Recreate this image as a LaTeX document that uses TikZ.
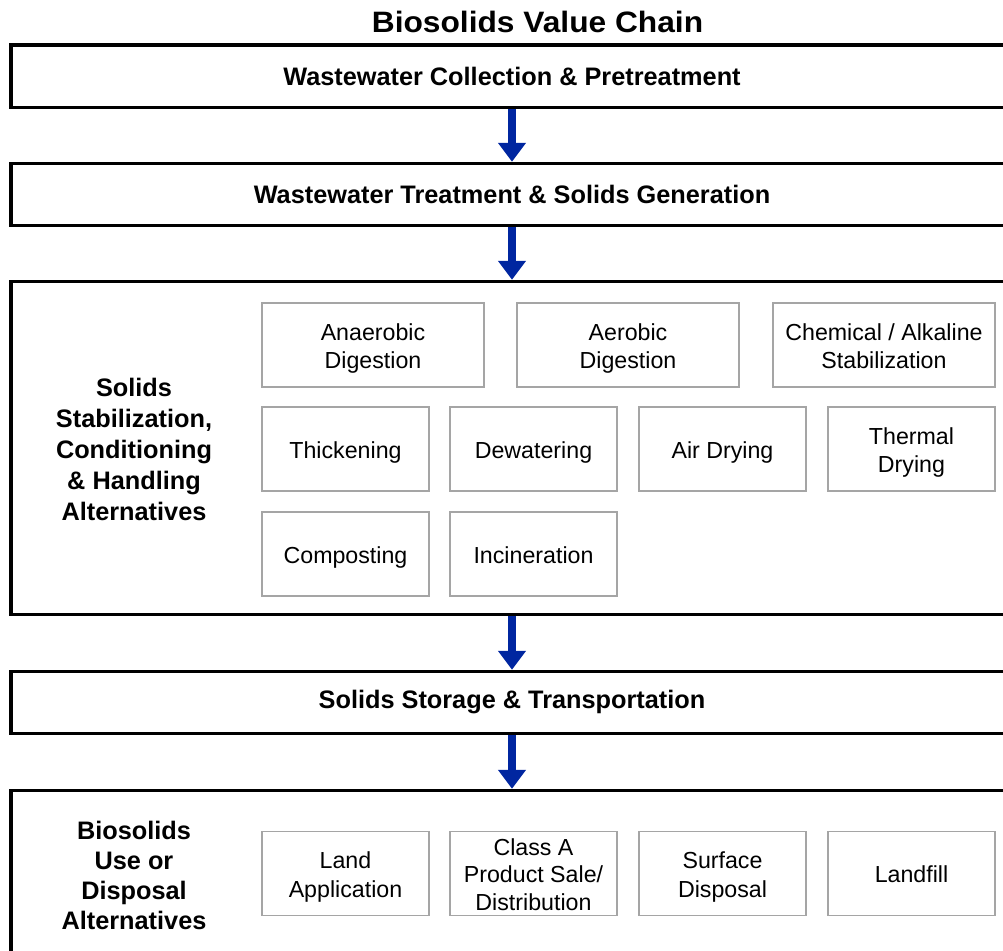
\documentclass[tikz,border=0pt]{standalone}
\usepackage{fontspec}
\setmainfont{Liberation Sans}
\usetikzlibrary{arrows.meta}
\definecolor{arrowblue}{RGB}{0,38,160}
\definecolor{boxgray}{RGB}{165,165,165}
\newcommand{\boxtext}[1]{\raisebox{-4pt}[\height][\depth]{\begin{tabular}{@{}c@{}}#1\end{tabular}}}
\begin{document}
\begin{tikzpicture}[x=1pt,y=-1pt,
  bigbox/.style={draw=black, line width=3.5pt, fill=white, minimum width=1002pt, inner sep=0pt,
    font=\bfseries\fontsize{25.3pt}{30.8pt}\selectfont},
  sidelabel/.style={align=center, inner sep=0pt, font=\bfseries\fontsize{25.3pt}{30.8pt}\selectfont},
  smallbox/.style={draw=boxgray, line width=1.3pt, fill=white, inner sep=0pt,
    minimum width=167pt, minimum height=84pt, font=\fontsize{23.2pt}{28.3pt}\selectfont},
  widebox/.style={smallbox, minimum width=222pt},
  flow/.style={draw=arrowblue, line width=8pt, -{Triangle[width=27pt,length=19pt]}},
  titletext/.style={inner sep=0pt, font=\bfseries\fontsize{29.5pt}{36pt}\selectfont}
]
\clip (0,0) rectangle (1003,950);
\fill[white] (0,0) rectangle (1003,950);

\node[titletext, anchor=base] (title) at (537.5,32.3) {\scalebox{1.075}[1]{Biosolids Value Chain}};

\node[bigbox, minimum height=62.5pt] (b1) at (512,76.25) {Wastewater Collection \& Pretreatment};
\node[bigbox, minimum height=62pt] (b2) at (512,194.5) {Wastewater Treatment \& Solids Generation};
\node[bigbox, minimum height=333pt] (b3) at (512,448) {};
\node[bigbox, minimum height=62pt] (b4) at (512,702.5) {Solids Storage \& Transportation};
\node[bigbox, minimum height=230pt] (b5) at (512,905.5) {};

\draw[flow] (b1.south) -- (b2.north);
\draw[flow] (b2.south) -- (b3.north);
\draw[flow] (b3.south) -- (b4.north);
\draw[flow] (b4.south) -- (b5.north);

% Stage 3 contents
\node[sidelabel] (l3) at (134,449.5) {Solids\\Stabilization,\\Conditioning\\\& Handling\\Alternatives};
\node[widebox] (anaer) at (373,345) {\boxtext{Anaerobic\\Digestion}};
\node[widebox] (aer) at (628,345) {\boxtext{Aerobic\\Digestion}};
\node[widebox] (chem) at (884,345) {\boxtext{Chemical / Alkaline\\Stabilization}};
\node[smallbox] (thick) at (345.5,449) {\boxtext{Thickening}};
\node[smallbox] (dew) at (533.5,449) {\boxtext{Dewatering}};
\node[smallbox] (air) at (722.5,449) {\boxtext{Air Drying}};
\node[smallbox] (therm) at (911.5,449) {\boxtext{Thermal\\Drying}};
\node[smallbox] (comp) at (345.5,554) {\boxtext{Composting}};
\node[smallbox] (inc) at (533.5,554) {\boxtext{Incineration}};

% Stage 5 contents
\node[sidelabel, font=\bfseries\fontsize{25.3pt}{30pt}\selectfont] (l5) at (134,875) {Biosolids\\Use or\\Disposal\\Alternatives};
\node[smallbox] (land) at (345.5,873.3) {\boxtext{Land\\Application}};
\node[smallbox, font=\fontsize{23.2pt}{27.5pt}\selectfont] (classa) at (533.5,873.3) {\boxtext{Class A\\Product Sale/\\Distribution}};
\node[smallbox] (surf) at (722.5,873.3) {\boxtext{Surface\\Disposal}};
\node[smallbox] (landf) at (911.5,873.3) {\boxtext{Landfill}};
\end{tikzpicture}
\end{document}
